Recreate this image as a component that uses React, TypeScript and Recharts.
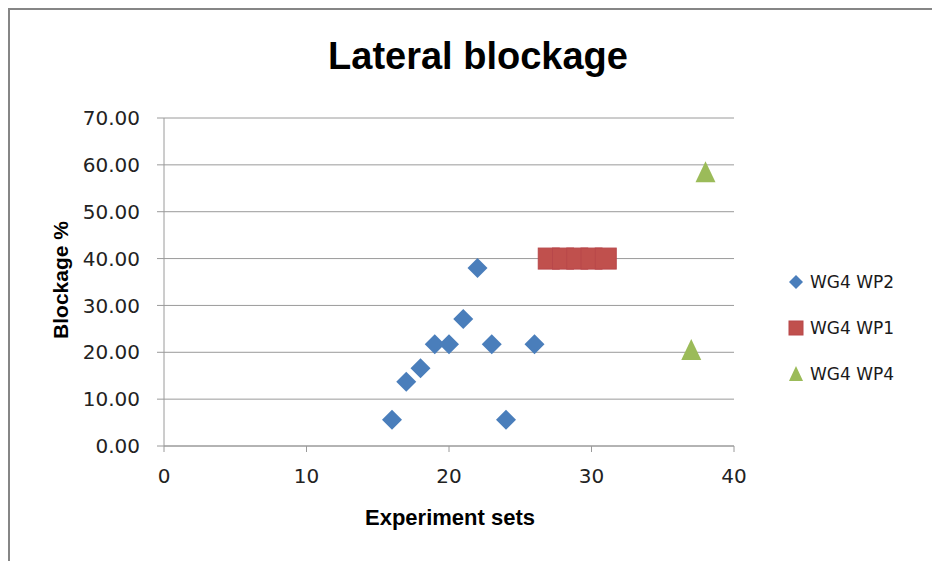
import React from 'react';
import { ScatterChart, Scatter, XAxis, YAxis, CartesianGrid } from 'recharts';

// Experiment set numbers and blockage percentages per working point
const wp2Sets = [16, 17, 18, 19, 20, 21, 22, 23, 24, 26];
const wp2Blockage = [5.6, 13.7, 16.6, 21.7, 21.7, 27.1, 38.0, 21.7, 5.6, 21.7];
const wp1Sets = [27, 28, 29, 30, 31];
const wp1Blockage = [40.0, 40.0, 40.0, 40.0, 40.0];
const wp4Sets = [37, 38];
const wp4Blockage = [20.5, 58.4];

const xTicks = [0, 10, 20, 30, 40];
const yTicks = [0, 10, 20, 30, 40, 50, 60, 70];

const BLUE = '#4A7EBB';
const RED = '#C0504D';
const GREEN = '#9BBB59';
const GRID = '#9a9a9a';
const TICK_FONT = 'DejaVu Sans, sans-serif';
const TITLE_FONT = 'Liberation Sans, Arial, sans-serif';

const toPoints = (xs: number[], ys: number[]) => xs.map((x, i) => ({ x, y: ys[i] }));

const wp2Data = toPoints(wp2Sets, wp2Blockage);
const wp1Data = toPoints(wp1Sets, wp1Blockage);
const wp4Data = toPoints(wp4Sets, wp4Blockage);

const Diamond = ({ cx, cy, r = 10, fill = BLUE }: any) => (
  <polygon points={`${cx},${cy - r} ${cx + r},${cy} ${cx},${cy + r} ${cx - r},${cy}`} fill={fill} />
);

const Square = ({ cx, cy, r = 10.5, fill = RED }: any) => (
  <rect x={cx - r} y={cy - r} width={2 * r} height={2 * r} fill={fill} stroke="#B8474A" strokeWidth={1} />
);

const Triangle = ({ cx, cy, r = 10, fill = GREEN }: any) => (
  <polygon points={`${cx},${cy - r - 1} ${cx + r},${cy + r} ${cx - r},${cy + r}`} fill={fill} />
);

const legendItems = [
  { name: 'WG4 WP2', Marker: Diamond, fill: BLUE },
  { name: 'WG4 WP1', Marker: Square, fill: RED },
  { name: 'WG4 WP4', Marker: Triangle, fill: GREEN },
];

// legend sits to the right of the plot, outside the chart's own layout
const SeriesLegend = () => (
  <div style={{ position: 'absolute', left: 777, top: 249, display: 'flex', flexDirection: 'column' }}>
    {legendItems.map(({ name, Marker, fill }) => (
      <div key={name} style={{ height: 46, display: 'flex', alignItems: 'center' }}>
        <svg width={18} height={18} style={{ marginRight: 5 }}>
          <Marker cx={9} cy={9} r={7} fill={fill} />
        </svg>
        <span style={{ fontFamily: TICK_FONT, fontSize: 17, color: '#1a1a1a' }}>{name}</span>
      </div>
    ))}
  </div>
);

export default function App() {
  const width = 922;
  const height = 551;

  return (
    <div
      style={{
        position: 'absolute',
        left: 8,
        top: 8,
        width: 924,
        height: 553,
        borderLeft: '2px solid #868686',
        borderTop: '2px solid #868686',
        boxSizing: 'border-box',
        background: '#fff',
      }}
    >
      <ScatterChart width={width} height={height} margin={{ top: 108, right: 198, bottom: 75, left: 0 }}>
        <CartesianGrid horizontal vertical={false} stroke={GRID} strokeWidth={1} />
        <XAxis
          type="number"
          dataKey="x"
          domain={[0, 40]}
          ticks={xTicks}
          height={40}
          tickSize={6}
          tickMargin={17}
          stroke={GRID}
          tick={{ fill: '#222', fontSize: 20, fontFamily: TICK_FONT }}
        />
        <YAxis
          type="number"
          dataKey="y"
          domain={[0, 70]}
          ticks={yTicks}
          width={154}
          tickSize={7}
          tickMargin={17}
          stroke={GRID}
          tickFormatter={(v: number) => v.toFixed(2)}
          tick={{ fill: '#222', fontSize: 20, fontFamily: TICK_FONT }}
        />
        <Scatter name="WG4 WP2" data={wp2Data} fill={BLUE} shape={(p: any) => <Diamond {...p} fill={BLUE} />} isAnimationActive={false} />
        <Scatter name="WG4 WP1" data={wp1Data} fill={RED} shape={(p: any) => <Square {...p} fill={RED} />} isAnimationActive={false} />
        <Scatter name="WG4 WP4" data={wp4Data} fill={GREEN} shape={(p: any) => <Triangle {...p} fill={GREEN} />} isAnimationActive={false} />
      </ScatterChart>

      <SeriesLegend />

      {/* chart and axis titles */}
      <svg width={width} height={height} style={{ position: 'absolute', left: 0, top: 0, pointerEvents: 'none' }}>
        <text x={468} y={59} textAnchor="middle" fontFamily={TITLE_FONT} fontWeight="bold" fontSize={38} fill="#000">
          Lateral blockage
        </text>
        <text x={440} y={515} textAnchor="middle" fontFamily={TITLE_FONT} fontWeight="bold" fontSize={22} fill="#000">
          Experiment sets
        </text>
        <text
          x={58}
          y={270}
          textAnchor="middle"
          transform="rotate(-90, 58, 270)"
          fontFamily={TITLE_FONT}
          fontWeight="bold"
          fontSize={21}
          fill="#000"
        >
          Blockage %
        </text>
      </svg>
    </div>
  );
}
